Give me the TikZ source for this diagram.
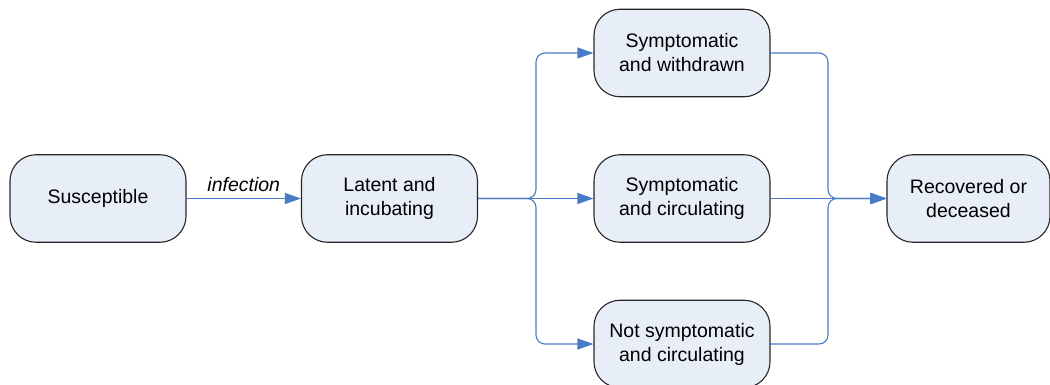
\documentclass[tikz,border=0pt]{standalone}
\usepackage{fontspec}
\setmainfont{Liberation Sans}
\usetikzlibrary{arrows.meta}

\definecolor{boxfill}{HTML}{E8EEF8}
\definecolor{boxline}{HTML}{262626}
\definecolor{flow}{HTML}{4A7BC6}

\tikzset{
  state/.style={draw=boxline, line width=1.1pt, fill=boxfill, rectangle,
    rounded corners=26pt, minimum width=176pt, minimum height=87.5pt,
    align=center, inner sep=0pt,
    font=\fontsize{19.5}{24}\selectfont},
  conn/.style={draw=flow, line width=1.1pt, rounded corners=9pt,
    -{Triangle[length=16pt,width=11pt]}},
  edgelabel/.style={font=\fontsize{19.5}{24}\selectfont\itshape, inner sep=6pt}
}

\begin{document}
\begin{tikzpicture}[x=1pt,y=-1pt]
  \useasboundingbox (0,0) rectangle (1050,385);

  % compartments
  \node[state] (sus) at (98,198.5) {\raisebox{-2.5pt}{Susceptible}};
  \node[state] (lat) at (389.5,198.5) {Latent and\\incubating};
  \node[state] (sw)  at (682,53) {Symptomatic\\and withdrawn};
  \node[state] (sc)  at (682,198.5) {Symptomatic\\and circulating};
  \node[state] (ns)  at (682,344) {Not symptomatic\\and circulating};
  \node[state, minimum width=163pt] (rec) at (968.5,198.5) {Recovered or\\deceased};

  % branch and merge points
  \coordinate (split) at (536,198.5);
  \coordinate (join)  at (828,198.5);

  % infection
  \draw[conn] (sus) -- node[edgelabel, above] {infection} (lat);

  % fan-out from the latent stage
  \draw[conn] (lat.east) -- (split) |- (sw.west);
  \draw[conn] (lat.east) -- (sc.west);
  \draw[conn] (lat.east) -- (split) |- (ns.west);

  % fan-in to the final stage
  \draw[conn] (sw.east) -| (join) -- (rec.west);
  \draw[conn] (sc.east) -- (rec.west);
  \draw[conn] (ns.east) -| (join) -- (rec.west);
\end{tikzpicture}
\end{document}
